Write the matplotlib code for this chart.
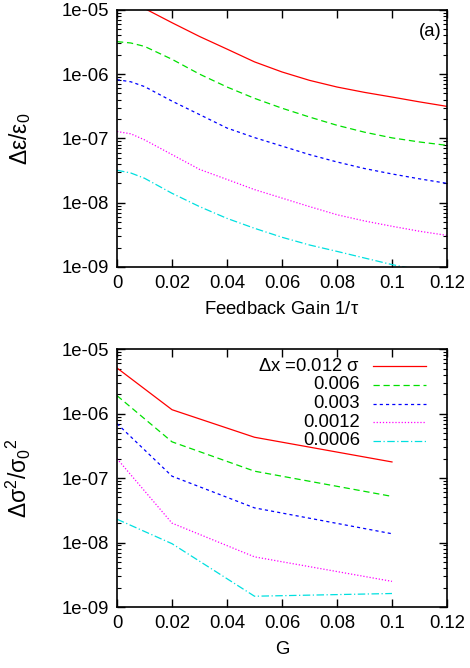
import numpy as np
import matplotlib
matplotlib.use('Agg')
import matplotlib.pyplot as plt
from matplotlib.ticker import LogLocator, FixedLocator, NullFormatter

plt.rcParams['font.family'] = ['Liberation Sans', 'DejaVu Sans']
plt.rcParams['mathtext.fontset'] = 'custom'
plt.rcParams['mathtext.rm'] = 'Liberation Sans'
plt.rcParams['mathtext.it'] = 'Liberation Sans'
plt.rcParams['mathtext.default'] = 'regular'

# panel (a): emittance growth vs feedback gain
gain = [0.0, 0.005, 0.01, 0.02, 0.03, 0.04, 0.05, 0.06, 0.07, 0.08, 0.09, 0.10, 0.11, 0.12]
eps_012 = [1.4e-5, 1.3e-5, 1.05e-5, 6.3e-6, 3.85e-6, 2.45e-6, 1.55e-6, 1.08e-6, 8.0e-7, 6.3e-7, 5.2e-7, 4.4e-7, 3.7e-7, 3.15e-7]
eps_006 = [3.2e-6, 3.05e-6, 2.7e-6, 1.7e-6, 1.0e-6, 6.3e-7, 4.2e-7, 2.95e-7, 2.15e-7, 1.6e-7, 1.25e-7, 1.02e-7, 8.8e-8, 7.8e-8]
eps_003 = [8.2e-7, 7.6e-7, 6.4e-7, 3.8e-7, 2.35e-7, 1.45e-7, 1.03e-7, 7.6e-8, 5.6e-8, 4.3e-8, 3.4e-8, 2.8e-8, 2.35e-8, 2.0e-8]
eps_0012 = [1.28e-7, 1.18e-7, 9.5e-8, 5.6e-8, 3.3e-8, 2.3e-8, 1.6e-8, 1.18e-8, 8.7e-9, 6.5e-9, 5.2e-9, 4.3e-9, 3.6e-9, 3.1e-9]
eps_0006 = [3.2e-8, 2.9e-8, 2.4e-8, 1.4e-8, 8.7e-9, 5.7e-9, 4.0e-9, 2.9e-9, 2.2e-9, 1.75e-9, 1.38e-9, 1.09e-9, 9.0e-10, 7.5e-10]

# panel (b): size growth vs G
G = [0.0, 0.02, 0.05, 0.1]
sig_012 = [5.1e-6, 1.15e-6, 4.3e-7, 1.78e-7]
sig_006 = [1.9e-6, 3.65e-7, 1.28e-7, 5.2e-8]
sig_003 = [7.0e-7, 1.07e-7, 3.45e-8, 1.37e-8]
sig_0012 = [2.0e-7, 2.0e-8, 6.0e-9, 2.5e-9]
sig_0006 = [2.3e-8, 9.6e-9, 1.47e-9, 1.62e-9]

labels = [r'$\Delta$x =0.012 $\sigma$', '0.006', '0.003', '0.0012', '0.0006']
colors = ['#ff0000', '#00e000', '#0000ff', '#ff00ff', '#00e0e0']
styles = ['-', (0, (5, 3)), (0, (2.5, 2.5)), (0, (1, 1.5)), (0, (6, 2, 1, 2))]
xticks = [0, 0.02, 0.04, 0.06, 0.08, 0.1, 0.12]
xticklabels = ['0', '0.02', '0.04', '0.06', '0.08', '0.1', '0.12']
yticks = [1e-9, 1e-8, 1e-7, 1e-6, 1e-5]
yticklabels = ['1e-09', '1e-08', '1e-07', '1e-06', '1e-05']

FS = 13.3

fig = plt.figure(figsize=(4.7, 6.68), dpi=100)
ax1 = fig.add_axes([0.249, 0.6003, 0.702, 0.385])
ax2 = fig.add_axes([0.249, 0.0913, 0.702, 0.386])


def style_axes(ax):
    ax.set_yscale('log')
    ax.set_xlim(0, 0.12)
    ax.set_ylim(1e-9, 1e-5)
    ax.xaxis.set_major_locator(FixedLocator(xticks))
    ax.set_xticklabels(xticklabels)
    ax.yaxis.set_major_locator(FixedLocator(yticks))
    ax.set_yticklabels(yticklabels)
    ax.yaxis.set_minor_locator(LogLocator(base=10, subs=np.arange(2, 10)))
    ax.yaxis.set_minor_formatter(NullFormatter())
    ax.tick_params(which='major', direction='in', length=6, width=1,
                   top=True, right=True, labelsize=FS, pad=6)
    ax.tick_params(which='minor', direction='in', length=3, width=0.8,
                   top=False, right=True)
    for s in ax.spines.values():
        s.set_linewidth(1.2)


series_a = [eps_012, eps_006, eps_003, eps_0012, eps_0006]
for y, c, ls in zip(series_a, colors, styles):
    ax1.plot(gain, y, color=c, linestyle=ls, linewidth=0.9)
style_axes(ax1)
ax1.set_xlabel(r'Feedback Gain 1/$\tau$', fontsize=FS, labelpad=6)
ax1.set_ylabel(r'$\Delta\varepsilon/\varepsilon_0$', fontsize=16.5)
ax1.yaxis.set_label_coords(-0.255, 0.5)
ax1.text(0.983, 0.914, '(a)', transform=ax1.transAxes, ha='right', va='center', fontsize=FS)

series_b = [sig_012, sig_006, sig_003, sig_0012, sig_0006]
for y, c, ls in zip(series_b, colors, styles):
    ax2.plot(G, y, color=c, linestyle=ls, linewidth=0.9)
style_axes(ax2)
ax2.set_xlabel('G', fontsize=FS, labelpad=6)
ax2.set_ylabel(r'$\Delta\sigma^{2}/\sigma_{0}{}^{2}$', fontsize=16.5)
ax2.yaxis.set_label_coords(-0.255, 0.5)

# gnuplot-style key: right-justified text, sample line on the right
for i, (lab, c, ls) in enumerate(zip(labels, colors, styles)):
    yk = 0.934 - i * 0.0725
    ax2.text(0.736, yk, lab, transform=ax2.transAxes, ha='right', va='center', fontsize=FS)
    ax2.plot([0.776, 0.936], [yk, yk], transform=ax2.transAxes, color=c,
             linestyle=ls, linewidth=0.9)

fig.savefig('out.png', dpi=100)
